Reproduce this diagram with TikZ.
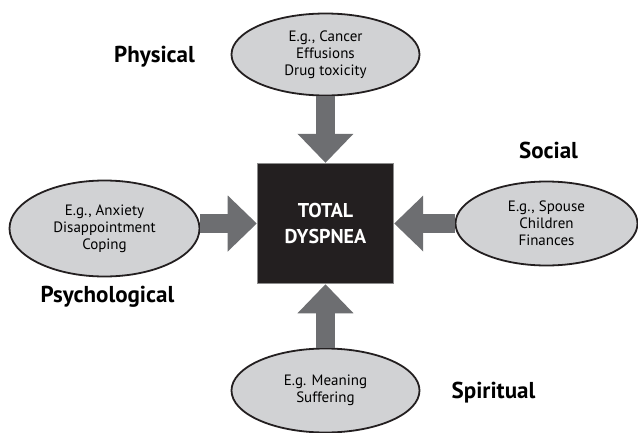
\documentclass[tikz,border=0pt]{standalone}
\usepackage{fontspec}
\setmainfont{PT Sans}
\usetikzlibrary{shapes.geometric, arrows.meta, positioning}

\definecolor{ellgray}{HTML}{D1D2D4}
\definecolor{arrowgray}{HTML}{6D6E71}
\definecolor{boxblack}{HTML}{231F20}
\definecolor{rimgray}{HTML}{8C8C8C}

\tikzset{
  factor/.style={ellipse, draw=boxblack, fill=ellgray, line width=1.8pt, inner sep=0pt,
    align=center, font=\fontsize{15}{17}\selectfont},
  dimlabel/.style={font=\bfseries\fontsize{23}{27}\selectfont, text height=16pt,
    text depth=0pt, inner sep=0pt},
  bigarrow/.style={draw=arrowgray, line width=19pt,
    -{Triangle[width=56pt, length=29pt, line width=0pt]}}
}

\begin{document}
\begin{tikzpicture}[node distance=168pt and 221pt, on grid]
        \useasboundingbox (-325.5pt,-208.5pt) rectangle (312.5pt,223.5pt);
        % define nodes
        % total dyspnea box in the middle
        \node[draw=rimgray, fill=boxblack, line width=1.5pt, minimum width=136pt,
              minimum height=120pt, text=white, align=center,
              font=\bfseries\fontsize{20}{26}\selectfont] (total) {TOTAL\\DYSPNEA};
        % physical is above total
        \node[factor, minimum width=188pt, minimum height=82pt] (physical) [above=169pt of total]
              {E.g., Cancer\\Effusions\\Drug toxicity};
        % psychological is left of total
        \node[factor, minimum width=190pt, minimum height=96pt] (psycho) [left=of total, yshift=-5pt]
              {E.g., Anxiety\\Disappointment\\Coping};
        % social is right of total
        \node[factor, minimum width=182pt, minimum height=84pt] (social) [right=of total]
              {E.g., Spouse\\Children\\Finances};
        % spiritual is below total
        \node[factor, minimum width=188pt, minimum height=84pt] (spiritual) [below=167pt of total]
              {E.g. Meaning\\Suffering};

        % define labels
        \node[dimlabel] (physlabel) [left=171pt of physical] {Physical};
        \node[dimlabel] (soclabel) [above=73pt of social, xshift=2pt] {Social};
        \node[dimlabel] (psychlabel) [below=66pt of psycho, xshift=3pt] {Psychological};
        \node[dimlabel] (spirlabel) [right=168pt of spiritual] {Spiritual};

        % define arrows
        \draw[bigarrow] (physical) -- (total); % physical into total
        \draw[bigarrow] (spiritual) -- (total); % spiritual into total
        \draw[bigarrow] (social) -- (total); % social into total
        \draw[bigarrow] (psycho.east |- total) -- (total); % psychological into total
    \end{tikzpicture}
\end{document}
